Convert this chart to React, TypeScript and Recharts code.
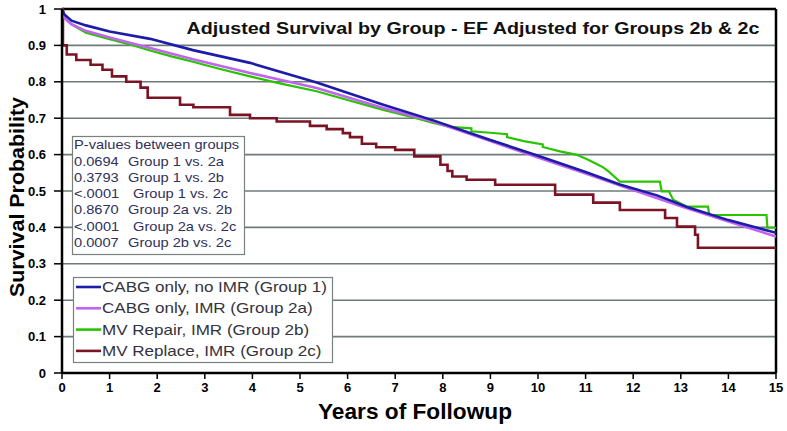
import React from 'react';
import { LineChart, Line, XAxis, YAxis, CartesianGrid, ReferenceLine } from 'recharts';

const FONT = '"Liberation Sans", Arial, Helvetica, sans-serif';

const titleText = 'Adjusted Survival by Group - EF Adjusted for Groups 2b & 2c';
const xAxisLabel = 'Years of Followup';
const yAxisLabel = 'Survival Probability';
const xTicks = [0, 1, 2, 3, 4, 5, 6, 7, 8, 9, 10, 11, 12, 13, 14, 15];
const yTicks = [0, 0.1, 0.2, 0.3, 0.4, 0.5, 0.6, 0.7, 0.8, 0.9, 1];

const seriesNames = [
  'CABG only, no IMR (Group 1)',
  'CABG only, IMR (Group 2a)',
  'MV Repair, IMR (Group 2b)',
  'MV Replace, IMR (Group 2c)',
];
const seriesColors = ['#1c1ca8', '#c264f2', '#28c400', '#7a1424'];

const g1Years = [0, 0.05, 0.2, 0.5, 1, 1.85, 2.75, 3.95, 5.35, 6.75, 7.8, 9, 10, 11, 11.72, 12.5, 13.13, 14, 15];
const g1Surv = [1, 0.985, 0.968, 0.955, 0.938, 0.918, 0.887, 0.852, 0.798, 0.737, 0.694, 0.64, 0.597, 0.552, 0.518, 0.488, 0.456, 0.42, 0.385];

const g2aYears = [0, 0.05, 0.2, 0.5, 1, 1.85, 2.75, 3.95, 5.35, 6.75, 7.8, 9, 10, 11, 12, 13, 14, 15];
const g2aSurv = [1, 0.975, 0.958, 0.94, 0.922, 0.893, 0.862, 0.824, 0.783, 0.728, 0.691, 0.637, 0.592, 0.548, 0.503, 0.458, 0.416, 0.375];

const g2bYears = [0, 0.02, 0.1, 0.2, 0.5, 1, 1.5, 1.85, 2.3, 2.75, 3.3, 3.95, 4.6, 5.35, 6, 6.75, 7.3, 7.8, 8.15, 8.6, 8.6, 9.0, 9.35, 9.35, 9.7, 10.1, 10.1, 10.46, 10.8, 11.02, 11.2, 11.37, 11.5, 11.6, 11.72, 12.56, 12.6, 12.75, 12.84, 13.13, 13.57, 13.6, 14.8, 14.82, 15];
const g2bSurv = [1, 0.99, 0.97, 0.958, 0.935, 0.917, 0.9, 0.886, 0.87, 0.855, 0.836, 0.815, 0.795, 0.774, 0.75, 0.723, 0.705, 0.687, 0.676, 0.672, 0.664, 0.66, 0.656, 0.648, 0.637, 0.628, 0.621, 0.609, 0.6, 0.588, 0.576, 0.565, 0.552, 0.54, 0.526, 0.526, 0.499, 0.499, 0.476, 0.457, 0.457, 0.434, 0.434, 0.399, 0.399];

const g2cYears = [0, 0.02, 0.1, 0.3, 0.6, 0.85, 1.05, 1.35, 1.65, 1.8, 2.48, 2.76, 3.53, 3.95, 4.51, 5.21, 5.56, 5.9, 6.05, 6.3, 6.6, 7.0, 7.4, 7.95, 8.1, 8.2, 8.5, 9.1, 10.36, 11.16, 11.72, 12.67, 12.92, 13.3, 13.36, 15];
const g2cSurv = [1, 0.9, 0.875, 0.86, 0.847, 0.833, 0.815, 0.8, 0.784, 0.756, 0.737, 0.73, 0.709, 0.7, 0.691, 0.679, 0.67, 0.659, 0.648, 0.63, 0.62, 0.613, 0.595, 0.572, 0.555, 0.54, 0.531, 0.517, 0.49, 0.468, 0.448, 0.426, 0.402, 0.38, 0.344, 0.344];

const pValueHeader = 'P-values between groups';
const pValues = ['0.0694', '0.3793', '<.0001', '0.8670', '<.0001', '0.0007'];
const pComparisons = ['Group 1 vs. 2a', 'Group 1 vs. 2b', 'Group 1 vs. 2c', 'Group 2a vs. 2b', 'Group 2a vs. 2c', 'Group 2b vs. 2c'];

const toPoints = (xs: number[], ys: number[]) => xs.map((x, i) => ({ x, y: ys[i] }));
const seriesData = [
  toPoints(g1Years, g1Surv),
  toPoints(g2aYears, g2aSurv),
  toPoints(g2bYears, g2bSurv),
  toPoints(g2cYears, g2cSurv),
];
const seriesTypes: ('linear' | 'stepAfter')[] = ['linear', 'linear', 'linear', 'stepAfter'];
const seriesWidths = [2.6, 2.6, 2.2, 2.6];
const drawOrder = [3, 2, 1, 0];

const W = 787;
const H = 431;

const XTick = (props: any) => {
  const { x, payload } = props;
  return (
    <text
      x={x}
      y={387}
      textAnchor="middle"
      dominantBaseline="central"
      fontSize={13}
      fontWeight="bold"
      fill="#000"
      fontFamily={FONT}
    >
      {String(payload.value)}
    </text>
  );
};

const YTick = (props: any) => {
  const { y, payload } = props;
  return (
    <text
      x={46}
      y={y}
      textAnchor="end"
      dominantBaseline="central"
      fontSize={13}
      fontWeight="bold"
      fill="#000"
      fontFamily={FONT}
    >
      {String(Math.round(payload.value * 10) / 10)}
    </text>
  );
};

export default function App() {
  return (
    <div style={{ position: 'absolute', left: 0, top: 0, width: W, height: H, background: '#fff' }}>
      <LineChart width={W} height={H} margin={{ top: 9, right: 11, left: 0, bottom: 0 }}>
        <CartesianGrid horizontal vertical={false} stroke="#6f7b7b" strokeWidth={1.6} />
        <XAxis
          dataKey="x"
          type="number"
          domain={[0, 15]}
          ticks={xTicks}
          allowDataOverflow
          height={58}
          axisLine={{ stroke: '#000', strokeWidth: 2.5 }}
          tickLine={{ stroke: '#000', strokeWidth: 1.5 }}
          tickSize={6}
          tick={<XTick />}
          interval={0}
        />
        <YAxis
          type="number"
          domain={[0, 1]}
          ticks={yTicks}
          width={62}
          axisLine={{ stroke: '#000', strokeWidth: 2.5 }}
          tickLine={{ stroke: '#000', strokeWidth: 1.5 }}
          tickSize={8}
          tick={<YTick />}
          interval={0}
        />
        <ReferenceLine y={1} stroke="#000" strokeWidth={2.5} />
        <ReferenceLine x={15} stroke="#000" strokeWidth={2.5} />
        {drawOrder.map((i) => (
          <Line
            key={seriesNames[i]}
            data={seriesData[i]}
            dataKey="y"
            name={seriesNames[i]}
            type={seriesTypes[i]}
            stroke={seriesColors[i]}
            strokeWidth={seriesWidths[i]}
            dot={false}
            activeDot={false}
            isAnimationActive={false}
          />
        ))}
      </LineChart>
      <svg
        width={W}
        height={H}
        style={{ position: 'absolute', left: 0, top: 0, pointerEvents: 'none' }}
        fontFamily={FONT}
      >
        <text
          x={473}
          y={28}
          textAnchor="middle"
          dominantBaseline="central"
          fontSize={16.5}
          fontWeight="bold"
          fill="#111"
          textLength={573}
          lengthAdjust="spacingAndGlyphs"
        >
          {titleText}
        </text>
        <text
          x={415}
          y={411}
          textAnchor="middle"
          dominantBaseline="central"
          fontSize={22}
          fontWeight="bold"
          fill="#000"
          textLength={194}
          lengthAdjust="spacingAndGlyphs"
        >
          {xAxisLabel}
        </text>
        <text
          x={16}
          y={197}
          transform="rotate(-90, 16, 197)"
          textAnchor="middle"
          dominantBaseline="central"
          fontSize={21}
          fontWeight="bold"
          fill="#000"
          textLength={200}
          lengthAdjust="spacingAndGlyphs"
        >
          {yAxisLabel}
        </text>

        {/* P-values box */}
        <rect x={72.5} y={136.5} width={172} height={118} fill="#fff" stroke="#7a8080" strokeWidth={1.2} />
        <text
          transform="translate(74,145) scale(1.2,1)"
          dominantBaseline="central"
          fontSize={12.2}
          fill="#30305a"
        >
          {pValueHeader}
        </text>
        {pValues.map((p, i) => {
          const cy = 161.5 + i * 16.3;
          const gx = p.startsWith('<') ? 133 : 128;
          return (
            <g key={i}>
              <text transform={`translate(74,${cy}) scale(1.2,1)`} dominantBaseline="central" fontSize={12.2} fill="#30305a">
                {p}
              </text>
              <text transform={`translate(${gx},${cy}) scale(1.2,1)`} dominantBaseline="central" fontSize={12.2} fill="#30305a">
                {pComparisons[i]}
              </text>
            </g>
          );
        })}

        {/* Legend box */}
        <rect x={73.5} y={277.5} width={259} height={85} fill="#fff" stroke="#7a8080" strokeWidth={1.2} />
        {seriesNames.map((name, i) => {
          const cy = 287 + i * 21.3;
          return (
            <g key={name}>
              <line x1={76} x2={101} y1={cy} y2={cy} stroke={seriesColors[i]} strokeWidth={2.6} />
              <text transform={`translate(102,${cy}) scale(1.2,1)`} dominantBaseline="central" fontSize={14.2} fill="#333340">
                {name}
              </text>
            </g>
          );
        })}
      </svg>
    </div>
  );
}
